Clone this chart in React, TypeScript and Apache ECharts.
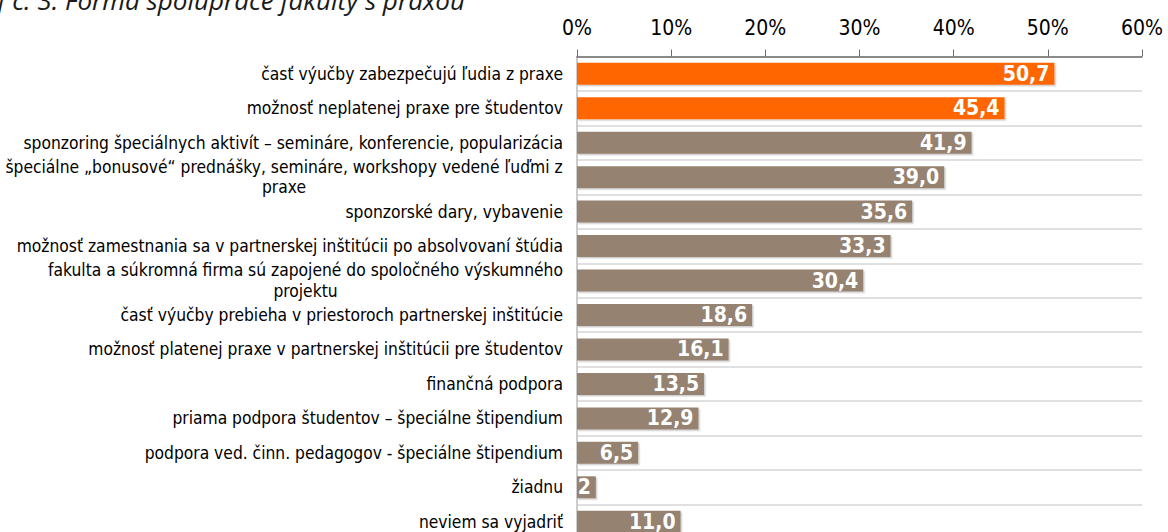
import React, { useEffect, useRef } from "react";
import * as echarts from "echarts";

const TITLE = "Graf č. 3: Forma spolupráce fakulty s praxou";
const TITLE_VISIBLE_PART = "č. 3: Forma spolupráce fakulty s praxou";

const categories: string[] = [
  "časť výučby zabezpečujú ľudia z praxe",
  "možnosť neplatenej praxe pre študentov",
  "sponzoring špeciálnych aktivít – semináre, konferencie, popularizácia",
  "špeciálne „bonusové“ prednášky, semináre, workshopy vedené ľuďmi z\npraxe",
  "sponzorské dary, vybavenie",
  "možnosť zamestnania sa v partnerskej inštitúcii po absolvovaní štúdia",
  "fakulta a súkromná firma sú zapojené do spoločného výskumného\nprojektu",
  "časť výučby prebieha v priestoroch partnerskej inštitúcie",
  "možnosť platenej praxe v partnerskej inštitúcii pre študentov",
  "finančná podpora",
  "priama podpora študentov – špeciálne štipendium",
  "podpora ved. činn. pedagogov - špeciálne štipendium",
  "žiadnu",
  "neviem sa vyjadriť",
];

const values: number[] = [50.7, 45.4, 41.9, 39.0, 35.6, 33.3, 30.4, 18.6, 16.1, 13.5, 12.9, 6.5, 2, 11.0];

const valueLabels: string[] = [
  "50,7", "45,4", "41,9", "39,0", "35,6", "33,3", "30,4",
  "18,6", "16,1", "13,5", "12,9", "6,5", "2", "11,0",
];

const highlighted: boolean[] = [true, true, false, false, false, false, false, false, false, false, false, false, false, false];

const xTicks = { min: 0, max: 60, interval: 10 };

const FONT = '"DejaVu Sans Condensed", "DejaVu Sans", sans-serif';
const CAT_SIZE = 17.3;
const ORANGE = "#FF6600";
const BROWN = "#958270";

function measure(text: string, font: string): number {
  const c = document.createElement("canvas");
  const ctx = c.getContext("2d");
  if (!ctx) return text.length * 8;
  ctx.font = font;
  return ctx.measureText(text).width;
}

export default function App() {
  const ref = useRef<HTMLDivElement | null>(null);

  useEffect(() => {
    if (!ref.current) return;
    const chart = echarts.init(ref.current, undefined, { renderer: "svg" });

    const catFont = `${CAT_SIZE}px ${FONT}`;
    const titleFamily = '"Open Sans", "Liberation Sans", sans-serif';
    const baseTitleSize = 22;
    const tw = measure(TITLE_VISIBLE_PART, `italic ${baseTitleSize}px ${titleFamily}`);
    const titleSize = tw > 0 ? (baseTitleSize * 453) / tw : baseTitleSize;

    // one rich style per multi-line label, so its lines are centred within its own block
    const rich: Record<string, any> = {};
    categories.forEach((c, i) => {
      if (!c.includes("\n")) return;
      const w = Math.ceil(Math.max(...c.split("\n").map((l) => measure(l, catFont))));
      rich["c" + i] = {
        fontFamily: FONT,
        fontSize: CAT_SIZE,
        color: "#000",
        lineHeight: 20.5,
        align: "center",
        width: w,
      };
    });

    const option: any = {
      animation: false,
      grid: {
        left: 577,
        top: 56.5,
        width: 565,
        height: 482.5,
        containLabel: false,
        outerBoundsMode: "none",
      },
      graphic: [
        {
          type: "text",
          right: 1168 - 465,
          top: -13,
          style: {
            text: TITLE,
            fontFamily: titleFamily,
            fontStyle: "italic",
            fontSize: titleSize,
            fill: "#1a1a1a",
          },
          z: 10,
        },
      ],
      xAxis: {
        type: "value",
        position: "top",
        min: xTicks.min,
        max: xTicks.max,
        interval: xTicks.interval,
        axisLine: { show: true, lineStyle: { color: "#6e6e6e", width: 1.5 } },
        axisTick: { show: true, length: 7, lineStyle: { color: "#6e6e6e", width: 1 } },
        splitLine: { show: false },
        axisLabel: {
          formatter: "{value}%",
          fontFamily: FONT,
          fontSize: 21,
          color: "#000",
          margin: 18,
        },
      },
      yAxis: {
        type: "category",
        inverse: true,
        data: categories,
        axisLine: { show: true, lineStyle: { color: "#bdbdbd", width: 1.5 } },
        axisTick: { show: false },
        splitLine: { show: true, interval: 0, lineStyle: { color: "#d6d6d6", width: 1.5 } },
        axisLabel: {
          interval: 0,
          margin: 14,
          fontFamily: FONT,
          fontSize: CAT_SIZE,
          color: "#000",
          lineHeight: 20.5,
          formatter: (val: string, idx: number) => {
            const lines = val.split("\n");
            if (lines.length === 1) return val;
            const i = categories.indexOf(val);
            return lines.map((l) => `{c${i}|${l}}`).join("\n");
          },
          rich,
        },
      },
      series: [
        {
          type: "bar",
          barWidth: 22,
          data: values.map((v, i) => ({
            value: v,
            itemStyle: {
              color: highlighted[i] ? ORANGE : BROWN,
              shadowColor: "rgba(0,0,0,0.18)",
              shadowOffsetX: 1.5,
              shadowOffsetY: 1.5,
              shadowBlur: 0,
            },
          })),
          label: {
            show: true,
            position: "insideRight",
            distance: 5,
            formatter: (p: any) => valueLabels[p.dataIndex],
            fontFamily: FONT,
            fontWeight: "bold",
            fontSize: 21,
            color: "#fff",
          },
        },
      ],
    };

    chart.setOption(option);
    return () => chart.dispose();
  }, []);

  return (
    <div style={{ position: "fixed", left: 0, top: 0, width: 1168, height: 532, overflow: "hidden", background: "#fff" }}>
      <div ref={ref} style={{ position: "absolute", left: 0, top: 0, width: 1168, height: 560 }} />
    </div>
  );
}
